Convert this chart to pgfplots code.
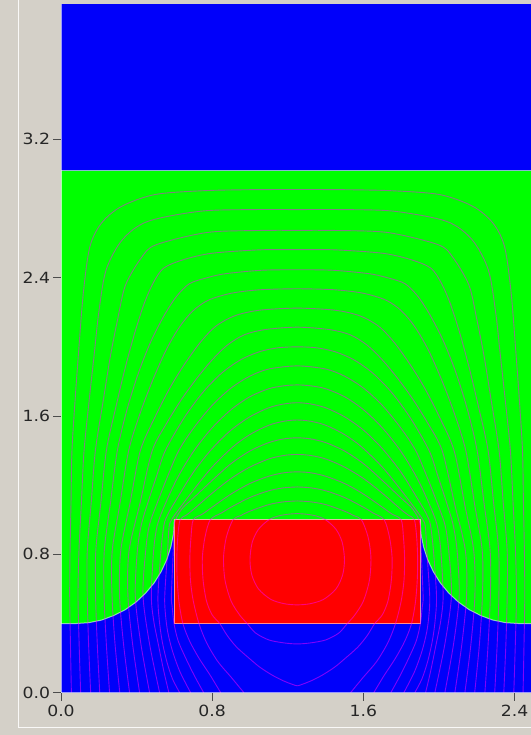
\documentclass[border=0pt]{standalone}
\usepackage{fontspec}
\setmainfont{DejaVu Sans}[FakeStretch=1.12]
\usepackage{pgfplots}
\pgfplotsset{compat=1.18}
\definecolor{cbg}{RGB}{212,208,200}
\definecolor{cblue}{RGB}{0,0,250}
\definecolor{cgreen}{RGB}{0,255,0}
\definecolor{cred}{RGB}{255,0,0}
\definecolor{cline}{RGB}{255,0,255}
\pgfplotsset{cl/.style={smooth, color=cline, opacity=0.5, line width=0.45pt}}
\begin{document}
\begin{tikzpicture}
\path[use as bounding box] (0,0) rectangle (265.5bp,367.5bp);
\fill[cbg] (0,0) rectangle (265.5bp,367.5bp);
\draw[white!85!cbg, line width=0.5bp] (9bp,367.5bp) -- (9bp,3.5bp) -- (265.5bp,3.5bp);
\begin{axis}[
  at={(30.5bp,21.15bp)}, anchor=south west,
  scale only axis, width=235bp, height=344.35bp,
  xmin=0, xmax=2.487, ymin=0, ymax=3.983,
  axis lines*=left, axis on top,
  axis line style={white, opacity=0.6, line width=0.5pt},
  xtick={0,0.8,1.6,2.4}, xticklabels={0.0,0.8,1.6,2.4},
  ytick={0,0.8,1.6,2.4,3.2}, yticklabels={0.0,0.8,1.6,2.4,3.2},
  tick align=outside, major tick length=4bp,
  tick style={color=black!70, line width=0.5pt},
  ticklabel style={font=\fontsize{7.7bp}{9bp}\selectfont, text=black!85},
  yticklabel style={inner sep=1.3bp},
  xticklabel style={inner sep=1.8bp},
]
% blue background
\addplot[fill=cblue, draw=none] coordinates {(0,0)(2.5,0)(2.5,3.983)(0,3.983)} --cycle;
% green region
\addplot[fill=cgreen, draw=white, draw opacity=0.55, line width=0.5pt] coordinates {
(0,3.02)(2.5,3.02)(2.5,0.40)(2.42,0.40)(2.352,0.405)(2.285,0.42)(2.221,0.446)(2.16,0.48)(2.103,0.524)(2.052,0.576)(2.007,0.635)(1.97,0.70)(1.94,0.770)(1.918,0.845)(1.904,0.922)(1.90,1.0)
(0.60,1.0)(0.596,0.922)(0.582,0.845)(0.560,0.770)(0.530,0.70)(0.493,0.635)(0.448,0.576)(0.397,0.524)(0.34,0.48)(0.279,0.446)(0.215,0.42)(0.148,0.405)(0.08,0.40)(0,0.40)} --cycle;
% red block
\addplot[fill=cred, draw=white!70!red, draw opacity=0.8, line width=0.5pt] coordinates {(0.6,0.4)(1.9,0.4)(1.9,1.0)(0.6,1.0)} --cycle;
% contour lines
\addplot[cl] coordinates {(0.055,0)(0.050,0.28)(0.046,0.56)(0.048,0.82)(0.053,1.1)(0.058,1.40)(0.075,1.70)(0.090,1.925)(0.118,2.311)(0.153,2.58)(0.215,2.717)(0.321,2.813)(0.497,2.881)(0.75,2.903)(1.0,2.909)(1.25,2.91)(1.5,2.909)(1.75,2.903)(2.003,2.881)(2.179,2.813)(2.285,2.717)(2.347,2.58)(2.382,2.311)(2.41,1.925)(2.425,1.70)(2.442,1.40)(2.447,1.1)(2.452,0.82)(2.454,0.56)(2.45,0.28)(2.445,0)};
\addplot[cl] coordinates {(0.104,0)(0.096,0.28)(0.090,0.56)(0.095,0.82)(0.108,1.1)(0.122,1.40)(0.150,1.70)(0.175,1.95)(0.200,2.20)(0.239,2.446)(0.325,2.62)(0.46,2.726)(0.742,2.785)(1.024,2.794)(1.25,2.794)(1.476,2.794)(1.758,2.785)(2.04,2.726)(2.175,2.62)(2.261,2.446)(2.30,2.20)(2.325,1.95)(2.35,1.70)(2.378,1.40)(2.392,1.1)(2.405,0.82)(2.41,0.56)(2.404,0.28)(2.396,0)};
\addplot[cl] coordinates {(0.157,0)(0.146,0.28)(0.139,0.56)(0.139,0.82)(0.160,1.1)(0.182,1.40)(0.225,1.70)(0.262,1.95)(0.298,2.15)(0.341,2.356)(0.425,2.515)(0.502,2.590)(0.769,2.661)(1.036,2.673)(1.25,2.674)(1.464,2.673)(1.731,2.661)(1.998,2.590)(2.075,2.515)(2.159,2.356)(2.202,2.15)(2.238,1.95)(2.275,1.70)(2.318,1.40)(2.34,1.1)(2.361,0.82)(2.361,0.56)(2.354,0.28)(2.343,0)};
\addplot[cl] coordinates {(0.205,0)(0.192,0.28)(0.183,0.56)(0.184,0.82)(0.211,1.1)(0.240,1.40)(0.290,1.65)(0.340,1.88)(0.390,2.08)(0.440,2.25)(0.488,2.37)(0.543,2.455)(0.644,2.503)(0.7955,2.541)(1.048,2.561)(1.25,2.562)(1.452,2.561)(1.7045,2.541)(1.856,2.503)(1.957,2.455)(2.012,2.37)(2.06,2.25)(2.11,2.08)(2.16,1.88)(2.21,1.65)(2.26,1.40)(2.289,1.1)(2.316,0.82)(2.317,0.56)(2.308,0.28)(2.295,0)};
\addplot[cl] coordinates {(0.257,0)(0.240,0.28)(0.228,0.56)(0.229,0.82)(0.262,1.1)(0.298,1.40)(0.350,1.64)(0.410,1.85)(0.475,2.03)(0.545,2.18)(0.610,2.29)(0.679,2.365)(0.770,2.399)(0.869,2.423)(1.06,2.443)(1.25,2.446)(1.44,2.443)(1.631,2.423)(1.73,2.399)(1.821,2.365)(1.89,2.29)(1.955,2.18)(2.025,2.03)(2.09,1.85)(2.15,1.64)(2.202,1.40)(2.238,1.1)(2.271,0.82)(2.272,0.56)(2.26,0.28)(2.243,0)};
\addplot[cl] coordinates {(0.311,0)(0.286,0.28)(0.270,0.56)(0.271,0.82)(0.313,1.1)(0.358,1.40)(0.420,1.62)(0.490,1.82)(0.560,1.99)(0.630,2.12)(0.700,2.21)(0.780,2.27)(0.900,2.31)(1.05,2.33)(1.25,2.336)(1.45,2.33)(1.60,2.31)(1.72,2.27)(1.80,2.21)(1.87,2.12)(1.94,1.99)(2.01,1.82)(2.08,1.62)(2.142,1.40)(2.187,1.1)(2.229,0.82)(2.23,0.56)(2.214,0.28)(2.189,0)};
\addplot[cl] coordinates {(0.363,0)(0.331,0.28)(0.310,0.56)(0.316,0.82)(0.366,1.1)(0.420,1.40)(0.500,1.60)(0.580,1.77)(0.660,1.91)(0.740,2.03)(0.820,2.12)(0.920,2.18)(1.05,2.212)(1.25,2.224)(1.45,2.212)(1.58,2.18)(1.68,2.12)(1.76,2.03)(1.84,1.91)(1.92,1.77)(2.0,1.60)(2.08,1.40)(2.134,1.1)(2.184,0.82)(2.19,0.56)(2.169,0.28)(2.137,0)};
\addplot[cl] coordinates {(0.416,0)(0.379,0.28)(0.354,0.56)(0.360,0.82)(0.419,1.1)(0.483,1.40)(0.560,1.56)(0.640,1.70)(0.720,1.82)(0.800,1.925)(0.880,2.01)(0.970,2.07)(1.08,2.10)(1.25,2.114)(1.42,2.10)(1.53,2.07)(1.62,2.01)(1.70,1.925)(1.78,1.82)(1.86,1.70)(1.94,1.56)(2.017,1.40)(2.081,1.1)(2.14,0.82)(2.146,0.56)(2.121,0.28)(2.084,0)};
\addplot[cl] coordinates {(0.469,0)(0.423,0.28)(0.393,0.56)(0.404,0.82)(0.425,0.97)(0.460,1.1)(0.505,1.25)(0.552,1.40)(0.650,1.587)(0.750,1.736)(0.850,1.848)(0.950,1.925)(1.05,1.972)(1.15,1.995)(1.25,2.0)(1.35,1.995)(1.45,1.972)(1.55,1.925)(1.65,1.848)(1.75,1.736)(1.85,1.587)(1.948,1.40)(1.995,1.25)(2.04,1.1)(2.075,0.97)(2.096,0.82)(2.107,0.56)(2.077,0.28)(2.031,0)};
\addplot[cl] coordinates {(0.522,0)(0.469,0.28)(0.434,0.56)(0.448,0.82)(0.468,0.97)(0.510,1.1)(0.560,1.24)(0.623,1.40)(0.700,1.528)(0.800,1.662)(0.900,1.762)(1.0,1.831)(1.10,1.872)(1.25,1.89)(1.40,1.872)(1.50,1.831)(1.60,1.762)(1.70,1.662)(1.80,1.528)(1.877,1.40)(1.94,1.24)(1.99,1.1)(2.032,0.97)(2.052,0.82)(2.066,0.56)(2.031,0.28)(1.978,0)};
\addplot[cl] coordinates {(0.571,0)(0.545,0.12)(0.515,0.28)(0.490,0.42)(0.478,0.56)(0.490,0.82)(0.510,0.97)(0.555,1.1)(0.620,1.25)(0.704,1.40)(0.800,1.532)(0.900,1.637)(1.0,1.712)(1.10,1.758)(1.18,1.775)(1.25,1.78)(1.32,1.775)(1.40,1.758)(1.50,1.712)(1.60,1.637)(1.70,1.532)(1.796,1.40)(1.88,1.25)(1.945,1.1)(1.99,0.97)(2.01,0.82)(2.022,0.56)(2.01,0.42)(1.985,0.28)(1.955,0.12)(1.929,0)};
\addplot[cl] coordinates {(0.628,0)(0.590,0.08)(0.560,0.18)(0.535,0.30)(0.520,0.42)(0.513,0.56)(0.529,0.82)(0.545,0.97)(0.565,1.03)(0.600,1.098)(0.700,1.274)(0.800,1.412)(0.900,1.519)(1.0,1.596)(1.10,1.648)(1.18,1.67)(1.25,1.677)(1.32,1.67)(1.40,1.648)(1.50,1.596)(1.60,1.519)(1.70,1.412)(1.80,1.274)(1.90,1.098)(1.935,1.03)(1.955,0.97)(1.971,0.82)(1.987,0.56)(1.98,0.42)(1.965,0.30)(1.94,0.18)(1.91,0.08)(1.872,0)};
\addplot[cl] coordinates {(0.686,0)(0.630,0.12)(0.590,0.24)(0.565,0.35)(0.553,0.45)(0.549,0.56)(0.564,0.82)(0.572,0.96)(0.585,1.0)(0.620,1.055)(0.700,1.171)(0.800,1.305)(0.910,1.422)(1.0,1.493)(1.10,1.547)(1.18,1.57)(1.25,1.577)(1.32,1.57)(1.40,1.547)(1.50,1.493)(1.59,1.422)(1.70,1.305)(1.80,1.171)(1.88,1.055)(1.915,1.0)(1.928,0.96)(1.936,0.82)(1.951,0.56)(1.947,0.45)(1.935,0.35)(1.91,0.24)(1.87,0.12)(1.814,0)};
\addplot[cl] coordinates {(0.755,0)(0.705,0.10)(0.660,0.20)(0.620,0.30)(0.598,0.40)(0.588,0.50)(0.584,0.56)(0.594,0.82)(0.598,0.96)(0.612,1.015)(0.645,1.07)(0.700,1.125)(0.800,1.228)(0.900,1.325)(1.0,1.398)(1.10,1.4465)(1.18,1.468)(1.25,1.474)(1.32,1.468)(1.40,1.4465)(1.50,1.398)(1.60,1.325)(1.70,1.228)(1.80,1.125)(1.855,1.07)(1.888,1.015)(1.902,0.96)(1.906,0.82)(1.916,0.56)(1.912,0.50)(1.902,0.40)(1.88,0.30)(1.84,0.20)(1.795,0.10)(1.745,0)};
\addplot[cl] coordinates {(0.845,0)(0.790,0.10)(0.730,0.20)(0.680,0.30)(0.645,0.40)(0.625,0.52)(0.615,0.65)(0.613,0.78)(0.618,0.90)(0.630,1.0)(0.660,1.025)(0.700,1.059)(0.800,1.154)(0.900,1.239)(1.0,1.305)(1.10,1.352)(1.18,1.372)(1.25,1.378)(1.32,1.372)(1.40,1.352)(1.50,1.305)(1.60,1.239)(1.70,1.154)(1.80,1.059)(1.84,1.025)(1.87,1.0)(1.882,0.90)(1.887,0.78)(1.885,0.65)(1.875,0.52)(1.855,0.40)(1.82,0.30)(1.77,0.20)(1.71,0.10)(1.655,0)};
\addplot[cl] coordinates {(0.968,0)(0.900,0.09)(0.830,0.18)(0.770,0.29)(0.730,0.40)(0.700,0.53)(0.685,0.65)(0.682,0.78)(0.688,0.90)(0.700,1.0)(0.750,1.034)(0.800,1.073)(0.900,1.149)(1.0,1.21)(1.10,1.252)(1.18,1.272)(1.25,1.277)(1.32,1.272)(1.40,1.252)(1.50,1.21)(1.60,1.149)(1.70,1.073)(1.75,1.034)(1.80,1.0)(1.812,0.90)(1.818,0.78)(1.815,0.65)(1.80,0.53)(1.77,0.40)(1.73,0.29)(1.67,0.18)(1.60,0.09)(1.532,0)};
\addplot[cl] coordinates {(1.25,1.19)(1.18,1.185)(1.10,1.168)(1.0,1.129)(0.90,1.073)(0.85,1.04)(0.79,1.0)(0.762,0.90)(0.748,0.78)(0.752,0.65)(0.770,0.53)(0.800,0.45)(0.840,0.40)(0.880,0.33)(0.930,0.263)(1.0,0.195)(1.053,0.147)(1.12,0.10)(1.18,0.067)(1.225,0.048)(1.25,0.04)(1.275,0.048)(1.32,0.067)(1.38,0.10)(1.447,0.147)(1.50,0.195)(1.57,0.263)(1.62,0.33)(1.66,0.40)(1.70,0.45)(1.73,0.53)(1.748,0.65)(1.752,0.78)(1.738,0.90)(1.71,1.0)(1.65,1.04)(1.60,1.073)(1.50,1.129)(1.40,1.168)(1.32,1.185)(1.25,1.19)};
\addplot[cl] coordinates {(1.25,1.109)(1.18,1.104)(1.10,1.088)(1.0,1.05)(0.95,1.024)(0.91,1.0)(0.875,0.90)(0.860,0.78)(0.868,0.65)(0.900,0.53)(0.945,0.45)(0.985,0.40)(1.03,0.345)(1.10,0.305)(1.18,0.288)(1.25,0.282)(1.32,0.288)(1.40,0.305)(1.47,0.345)(1.515,0.40)(1.555,0.45)(1.60,0.53)(1.632,0.65)(1.64,0.78)(1.625,0.90)(1.59,1.0)(1.55,1.024)(1.50,1.05)(1.40,1.088)(1.32,1.104)(1.25,1.109)};
\addplot[cl] coordinates {(1.25,1.036)(1.20,1.032)(1.15,1.022)(1.10,1.0)(1.045,0.945)(1.012,0.87)(1.0,0.77)(1.01,0.68)(1.045,0.60)(1.11,0.54)(1.18,0.515)(1.25,0.508)(1.32,0.515)(1.39,0.54)(1.455,0.60)(1.49,0.68)(1.50,0.77)(1.488,0.87)(1.455,0.945)(1.40,1.0)(1.35,1.022)(1.30,1.032)(1.25,1.036)};
\end{axis}
\end{tikzpicture}
\end{document}
